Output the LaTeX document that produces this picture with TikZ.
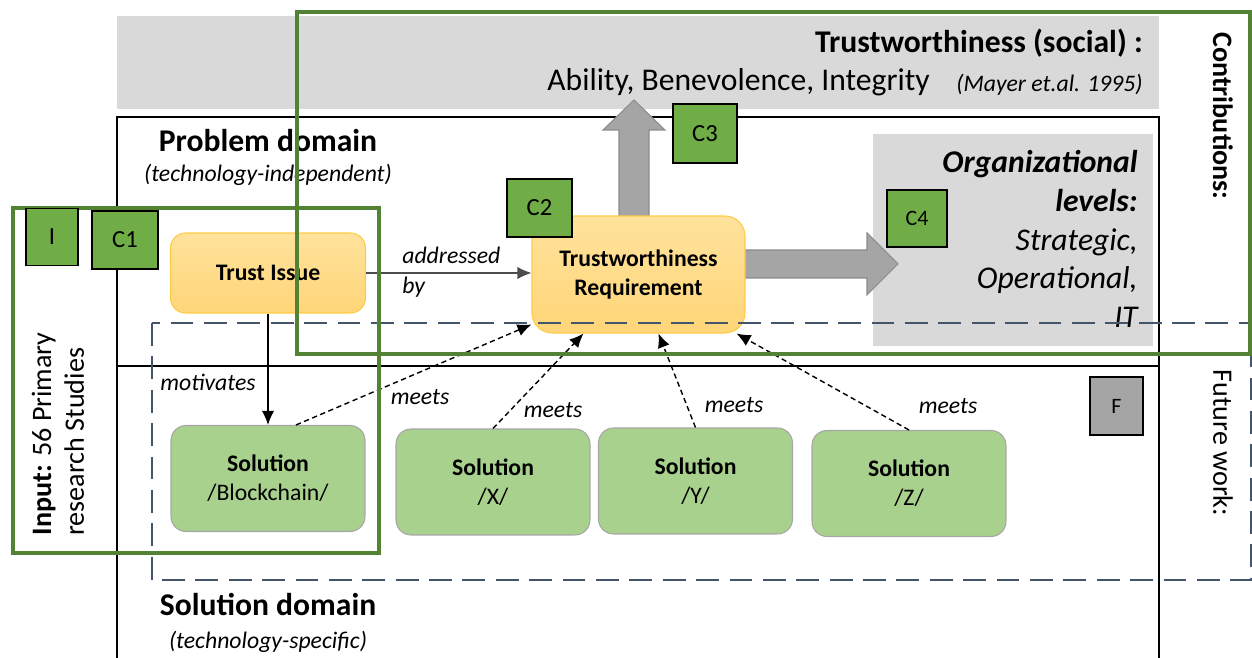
\documentclass[tikz,border=0pt]{standalone}
\usepackage{fontspec}
\setmainfont{Carlito}
\usetikzlibrary{arrows.meta,positioning}
\definecolor{frameg}{HTML}{548235}
\definecolor{cgreen}{HTML}{70AD47}
\definecolor{soln}{HTML}{A9D18E}
\definecolor{soledge}{HTML}{A6A6A6}
\definecolor{futurec}{HTML}{44546A}
\definecolor{band}{HTML}{D9D9D9}
\definecolor{arrowgray}{HTML}{A5A5A5}
\definecolor{arrowedge}{HTML}{8C8C8C}
\definecolor{reqtop}{HTML}{FFE29C}
\definecolor{reqbot}{HTML}{FFD678}
\definecolor{reqedge}{HTML}{FFCB45}

\begin{document}
\begin{tikzpicture}[x=0.02cm,y=-0.02cm,
    every node/.style={inner sep=0pt},
    title/.style={font=\fontsize{18}{22}\selectfont\bfseries},
    subtitle/.style={font=\fontsize{13.5}{16}\selectfont\itshape},
    cbox/.style={draw=black,line width=1pt,fill=cgreen,font=\fontsize{14}{16}\selectfont},
    issuebox/.style={draw=reqedge,line width=0.6pt,top color=reqtop,bottom color=reqbot,
      font=\fontsize{13.5}{16.5}\selectfont\bfseries,align=center},
    solbox/.style={draw=soledge,line width=0.6pt,fill=soln,rounded corners=0.3cm,
      minimum width=3.88cm,minimum height=2.12cm,font=\fontsize{13.5}{16.5}\selectfont,align=center},
    lbl/.style={font=\fontsize{13.5}{17}\selectfont\itshape},
    flow/.style={-{Latex[length=8pt,width=7pt]},line width=0.7pt},
    meetsarrow/.style={-{Latex[length=8pt,width=7pt]},dash pattern=on 3pt off 2pt,line width=0.8pt},
    frame/.style={draw=frameg,line width=2.8pt},
    futurebox/.style={draw=futurec,line width=1.6pt,dash pattern=on 13pt off 6pt},
    blockarrow/.style={fill=arrowgray,draw=arrowedge,line width=0.6pt}]
  \useasboundingbox (0,0) rectangle (1252,658);

  % grey backgrounds
  \fill[band] (117,16) rectangle (1159,109);
  \fill[band] (873,134) rectangle (1153,346);

  % domains
  \draw[line width=1.1pt] (117,658) -- (117,117) -- (1159,117) -- (1159,658);
  \draw[line width=1.1pt] (117,366) -- (1159,366);
  \node[title,anchor=base] (pd) at (268,152) {Problem domain};
  \node[subtitle,anchor=base] (pdsub) at (268,182) {(technology-independent)};
  \node[title,anchor=base] (sd) at (268,616) {Solution domain};
  \node[subtitle,anchor=base] (sdsub) at (268,648) {(technology-specific)};

  % social trustworthiness
  \node[title,anchor=base east] (tw) at (1143,53) {Trustworthiness (social) :};
  \node[font=\fontsize{18}{22}\selectfont,anchor=base west] (abi) at (547,91) {Ability, Benevolence, Integrity};
  \node[font=\fontsize{13.5}{15}\selectfont\itshape,anchor=base east] (mayer) at (1143,92) {(Mayer et.al. 1995)};

  % organizational levels
  \node[font=\fontsize{18}{22.1}\selectfont\itshape,align=right,anchor=east] (org) at (1138,239)
    {\textbf{Organizational}\\\textbf{levels:}\\Strategic,\\Operational,\\IT};

  % block arrows
  \draw[blockarrow] (619,225) -- (619,130) -- (603,130) -- (634,100) -- (665,130) -- (649,130) -- (649,225) -- cycle;
  \draw[blockarrow] (738,250) -- (867,250) -- (867,233) -- (898,264) -- (867,295) -- (867,278) -- (738,278) -- cycle;

  % problem side
  \node[issuebox,rounded corners=0.3cm,minimum width=3.9cm,minimum height=1.6cm] (issue) at (268,273) {Trust Issue};
  \node[issuebox,rounded corners=0.4cm,minimum width=4.26cm,minimum height=2.34cm] (req) at (638.5,274.5)
    {Trustworthiness\\Requirement};

  % solutions
  \node[solbox] (sb) at (268,478.5) {\textbf{Solution}\\/Blockchain/};
  \node[solbox] (sx) at (493,482) {\textbf{Solution}\\/X/};
  \node[solbox] (sy) at (695.5,481) {\textbf{Solution}\\/Y/};
  \node[solbox] (sz) at (909,483.5) {\textbf{Solution}\\/Z/};

  \draw[flow,draw=black!70] (issue.east) -- (issue.east -| req.west);
  \node[lbl,anchor=west,align=left] (addr) at (402,272) {addressed\\by};
  \draw[flow] (issue.south) -- (sb.north);
  \node[lbl] (mot) at (208,382) {motivates};

  \draw[meetsarrow] ([xshift=0.56cm]sb.north) -- ([yshift=-1cm]req.west);
  \draw[meetsarrow] (sx.north) -- ([xshift=-1.1cm]req.south);
  \draw[meetsarrow] (sy.north) -- ([xshift=0.4cm]req.south);
  \draw[meetsarrow] (sz.north) -- ([xshift=1.96cm]req.south);
  \node[lbl] (m1) at (420,397) {meets};
  \node[lbl] (m2) at (553,410) {meets};
  \node[lbl] (m3) at (734,405) {meets};
  \node[lbl] (m4) at (948,406) {meets};

  % scope frames
  \draw[futurebox] (152,323) rectangle (1251,580);
  \draw[frame] (13,208) rectangle (379,553);
  \draw[frame] (297,12) rectangle (1250,354);

  \node[font=\fontsize{16}{18.7}\selectfont,rotate=90,align=left] (input) at (58,434)
    {\textbf{Input:} 56 Primary\\research Studies};
  \node[font=\fontsize{16}{19}\selectfont\bfseries,rotate=-90] (contrib) at (1223,116) {Contributions:};
  \node[font=\fontsize{16}{19}\selectfont,rotate=-90] (future) at (1223,443) {Future work:};

  % markers
  \node[cbox,minimum width=1.04cm,minimum height=1.14cm] (i) at (52,237) {I};
  \node[cbox,minimum width=1.32cm,minimum height=1.16cm] (c1) at (125,240) {C1};
  \node[cbox,minimum width=1.3cm,minimum height=1.16cm] (c2) at (539.5,208) {C2};
  \node[cbox,minimum width=1.28cm,minimum height=1.18cm] (c3) at (705,133.5) {C3};
  \node[cbox,minimum width=1.2cm,minimum height=1.14cm,font=\fontsize{12.5}{14}\selectfont] (c4) at (917,218.5) {C4};
  \node[cbox,fill=arrowgray,minimum width=1.06cm,minimum height=1.16cm,font=\fontsize{12.5}{14}\selectfont] (f) at (1116.5,406) {F};
\end{tikzpicture}
\end{document}
